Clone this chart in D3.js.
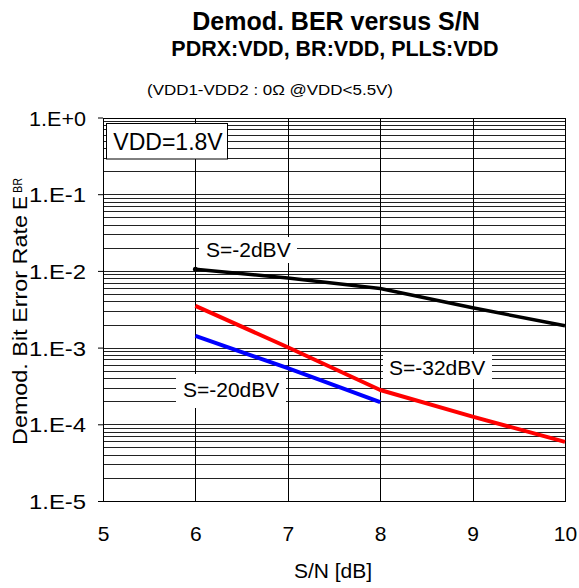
<!DOCTYPE html>
<html><head><meta charset="utf-8">
<script src="https://cdn.jsdelivr.net/npm/d3@7"></script>
<style>
body{margin:0;background:#fff;}
text{font-family:"Liberation Sans",Arial,sans-serif;fill:#000;}
</style></head>
<body><svg id="c" width="579" height="588"></svg>
<script>
const xTicks = [5, 6, 7, 8, 9, 10];
const yTicks = [1, 1e-1, 1e-2, 1e-3, 1e-4, 1e-5];
const yTickLabels = ["1.E+0", "1.E-1", "1.E-2", "1.E-3", "1.E-4", "1.E-5"];
const snBlack = [6, 7, 8, 9, 10];
const berBlack = [0.0105, 0.0081, 0.0059, 0.0033, 0.00193];
const snRed = [6, 7, 8, 9, 10];
const berRed = [0.0035, 0.00101, 0.00028, 0.000126, 0.000059];
const snBlue = [6, 7, 8];
const berBlue = [0.00142, 0.00054, 0.000194];
const seriesNames = ["S=-2dBV", "S=-32dBV", "S=-20dBV"];

const svg = d3.select("#c");
const L = 103, R = 565, T = 117.5, B = 501;
const x = d3.scaleLinear().domain([5, 10]).range([L, R]);
const y = d3.scaleLog().domain([1e-5, 1]).range([B, T]);

// grid
const g = svg.append("g").attr("shape-rendering", "crispEdges");
const minors = [];
for (let e = -5; e < 0; e++) for (let k = 1; k <= 9; k++) minors.push(k * Math.pow(10, e));
g.selectAll(".hg").data(minors).enter().append("line")
  .attr("x1", L).attr("x2", R).attr("y1", d => Math.round(y(d)) + 0.5).attr("y2", d => Math.round(y(d)) + 0.5)
  .attr("stroke", "#222").attr("stroke-width", 1);
g.selectAll(".vg").data(xTicks).enter().append("line")
  .attr("x1", d => Math.round(x(d)) + 0.5).attr("x2", d => Math.round(x(d)) + 0.5)
  .attr("y1", T).attr("y2", B).attr("stroke", "#000").attr("stroke-width", 1);
g.append("rect").attr("x", L + 0.5).attr("y", Math.round(T) + 0.5).attr("width", R - L)
  .attr("height", Math.round(B) - Math.round(T)).attr("fill", "none").attr("stroke", "#000").attr("stroke-width", 1.3);

// axes
const yAxis = d3.axisLeft(y).tickValues(yTicks).tickSize(5).tickPadding(12)
  .tickFormat((d, i) => yTickLabels[i]);
const ya = svg.append("g").attr("transform", `translate(${L},0)`).call(yAxis);
ya.attr("font-size", null).attr("font-family", null);
ya.select(".domain").remove();
ya.selectAll("line").attr("stroke", "#000");
ya.selectAll("text").style("font-size", "21px").attr("dy", "0.36em").attr("textLength", 57).attr("lengthAdjust", "spacingAndGlyphs");

const xAxis = d3.axisBottom(x).tickValues(xTicks).tickSize(0).tickPadding(24).tickFormat(d3.format("d"));
const xa = svg.append("g").attr("transform", `translate(0,${B})`).call(xAxis);
xa.attr("font-size", null).attr("font-family", null);
xa.select(".domain").remove();
xa.selectAll("text").style("font-size", "21px").attr("dy", null).attr("y", 40);

// label backgrounds
function bgRect(x0, y0, x1, y1) {
  svg.append("rect").attr("x", x0).attr("y", y0).attr("width", x1 - x0).attr("height", y1 - y0).attr("fill", "#fff");
}
bgRect(199, 237, 297, 263);
bgRect(383, 354, 492, 379);
bgRect(176, 374, 286, 408);

// lines
const line = d3.line().x(d => x(d[0])).y(d => y(d[1]));
function drawSeries(xs, ys, color, w) {
  svg.append("path").datum(xs.map((v, i) => [v, ys[i]]))
    .attr("d", line).attr("fill", "none").attr("stroke", color).attr("stroke-width", w)
    .attr("stroke-linejoin", "round");
}
drawSeries(snBlack, berBlack, "#000", 3.5);
drawSeries(snRed, berRed, "#ff0000", 4);
drawSeries(snBlue, berBlue, "#0000ff", 4);
svg.append("circle").attr("cx", x(snBlack[0])).attr("cy", y(berBlack[0])).attr("r", 2.5).attr("fill", "#000");

// series labels
svg.append("text").attr("x", 206).attr("y", 257).style("font-size", "21px").text(seriesNames[0]);
svg.append("text").attr("x", 389).attr("y", 375).style("font-size", "21px").text(seriesNames[1]);
svg.append("text").attr("x", 183).attr("y", 397).style("font-size", "21px").text(seriesNames[2]);

// VDD box
svg.append("rect").attr("x", 106.5).attr("y", 123.5).attr("width", 121).attr("height", 35.5)
  .attr("fill", "#fff").attr("stroke", "#000").attr("stroke-width", 1);
svg.append("text").attr("x", 168).attr("y", 149.5).attr("text-anchor", "middle").style("font-size", "23px").text("VDD=1.8V");

// titles
svg.append("text").attr("x", 336).attr("y", 30).attr("text-anchor", "middle").style("font-size", "25px")
  .attr("font-weight", "bold").text("Demod. BER versus S/N");
svg.append("text").attr("x", 335).attr("y", 56).attr("text-anchor", "middle").style("font-size", "21.5px")
  .attr("font-weight", "bold").text("PDRX:VDD, BR:VDD, PLLS:VDD");
svg.append("text").attr("x", 147).attr("y", 95).style("font-size", "15px").attr("textLength", 246)
  .attr("lengthAdjust", "spacingAndGlyphs").text("(VDD1-VDD2 : 0Ω @VDD<5.5V)");

// axis titles
svg.append("text").attr("x", 333).attr("y", 578).attr("text-anchor", "middle").style("font-size", "21px").text("S/N [dB]");
svg.append("text").attr("transform", "translate(27,445) rotate(-90)").style("font-size", "21px")
  .attr("textLength", 230).attr("lengthAdjust", "spacingAndGlyphs").text("Demod. Bit Error Rate");
svg.append("text").attr("transform", "translate(27,210) rotate(-90)").style("font-size", "21px").text("E");
svg.append("text").attr("transform", "translate(22,193) rotate(-90)").style("font-size", "13px")
  .attr("textLength", 15).attr("lengthAdjust", "spacingAndGlyphs").text("BR");
</script></body></html>
